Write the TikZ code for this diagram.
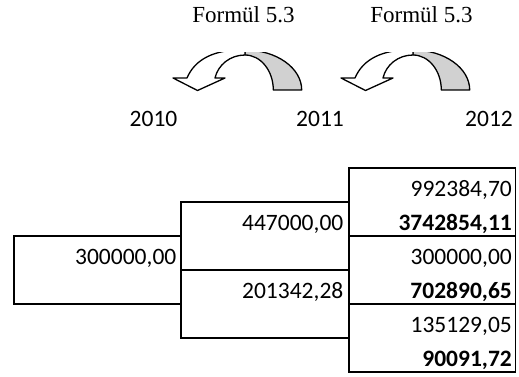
\documentclass[tikz,border=0pt]{standalone}
\usepackage{fontspec}
\setmainfont{Liberation Serif}
\newfontfamily\cellfont{Carlito}
\begin{document}
\begin{tikzpicture}[x=1pt,y=1pt,
    num/.style={font=\cellfont\fontsize{23.5}{28}\selectfont,inner sep=0pt,anchor=base east},
    yr/.style={font=\cellfont\fontsize{23.5}{28}\selectfont,inner sep=0pt,anchor=base},
    frm/.style={font=\fontsize{23}{28}\selectfont,inner sep=0pt,anchor=base},
    band/.style={line width=1.3pt,line join=round},
    cell/.style={line width=1.2pt}]
    \useasboundingbox (0,0) rectangle (519,377);
    % donen oklar
    \foreach \s in {0,168}{
    \begin{scope}[xshift=\s]
    \clip (150,250) rectangle (320,324);
    \draw[band,fill=black!18] (301.7,287) arc[start angle=0,end angle=90,x radius=56.7,y radius=40]
    -- (245,322) arc[start angle=90,end angle=0,x radius=28.3,y radius=35] -- cycle;
    \draw[band,fill=white] (187,299) -- (173,299) -- (197.5,286.5) -- (225,299) -- (215,299)
    .. controls (218,312) and (230,322) .. (245,322) -- (245,327)
    .. controls (215,328) and (195,318) .. (187,299) -- cycle;
    \end{scope}}
    \node[frm] (f1) at (243.5,354) {Formül 5.3};
    \node[frm] (f2) at (421.5,354) {Formül 5.3};
    \node[yr] (y10) at (153.5,250) {2010};
    \node[yr] (y11) at (320,250) {2011};
    \node[yr] (y12) at (489,250) {2012};
    % tablo
    \draw[cell] (14,73) rectangle (181,141);
    \draw[cell] (181,39) rectangle (349,175) (181,107) -- (349,107);
    \draw[cell] (349,5) rectangle (515.5,209) (349,141) -- (515.5,141) (349,73) -- (515.5,73);
    \node[num] (c1) at (176.5,112.5) {300000,00};
    \node[num] (c2a) at (343.5,146.5) {447000,00};
    \node[num] (c2b) at (343.5,78.5) {201342,28};
    \node[num] (c3a) at (512,180.5) {992384,70};
    \node[num,font=\cellfont\bfseries\fontsize{23.5}{28}\selectfont] (c3b) at (512,146.5) {3742854,11};
    \node[num] (c3c) at (512,112.5) {300000,00};
    \node[num,font=\cellfont\bfseries\fontsize{23.5}{28}\selectfont] (c3d) at (512,78.5) {702890,65};
    \node[num] (c3e) at (512,44.5) {135129,05};
    \node[num,font=\cellfont\bfseries\fontsize{23.5}{28}\selectfont] (c3f) at (512,10.5) {90091,72};
\end{tikzpicture}
\end{document}
